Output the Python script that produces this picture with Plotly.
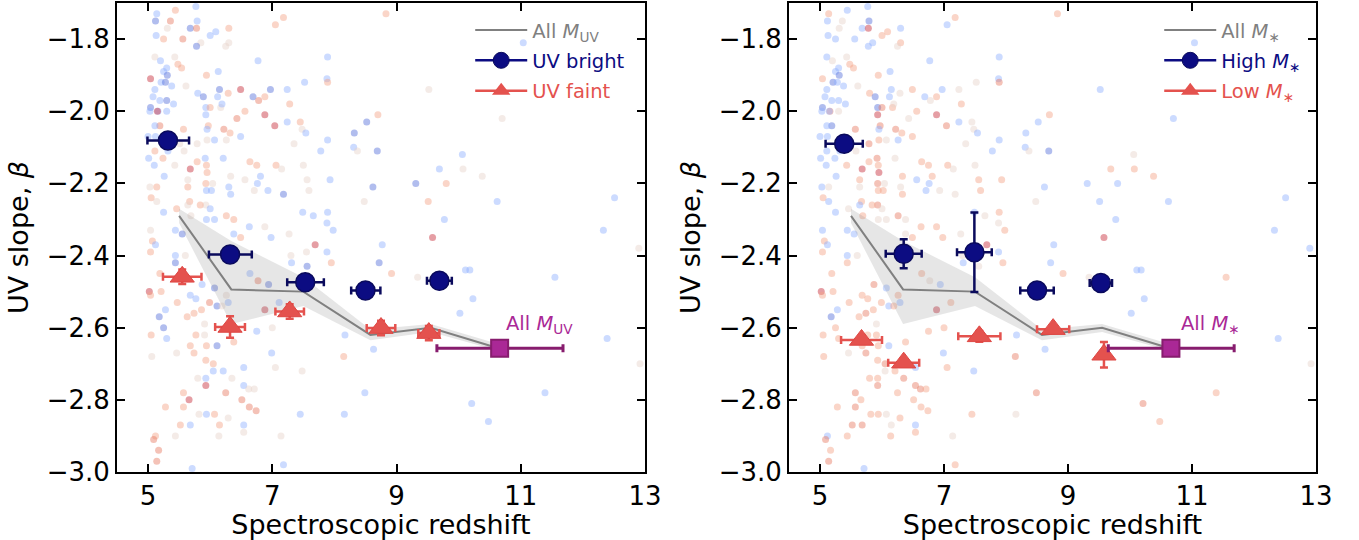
import plotly.graph_objects as go

# individual galaxies (shared positions in both panels)
z_gal = [5.77, 5.14, 5.44, 5.12, 5.36, 5.79, 5.68, 5.78, 5.31, 6.09, 6.30, 6.00, 5.13, 5.25, 5.56, 5.85, 5.78, 6.30, 6.25, 7.05,
         7.18, 8.83, 11.04, 5.11, 5.43, 5.20, 5.48, 5.54, 6.77, 7.89, 5.30, 5.25, 5.31, 6.13, 5.94, 5.04, 5.21, 5.28, 5.38, 5.61,
         5.11, 5.80, 6.15, 6.49, 6.97, 7.24, 7.52, 7.88, 7.89, 9.52, 6.29, 6.12, 5.89, 6.69, 6.88, 6.78, 5.08, 5.19, 5.30, 5.41,
         7.28, 5.04, 5.16, 5.03, 5.15, 5.30, 5.93, 6.00, 6.17, 6.19, 5.93, 6.56, 6.43, 6.88, 7.04, 7.24, 7.45, 8.52, 8.70, 10.70,
         5.19, 5.11, 5.57, 5.97, 5.95, 6.22, 7.48, 7.54, 8.32, 7.89, 8.31, 8.69, 8.37, 7.35, 7.78, 10.06, 5.00, 5.12, 5.51, 5.11,
         5.32, 5.58, 5.79, 5.95, 6.07, 6.26, 6.32, 6.49, 5.92, 6.21, 5.01, 5.10, 5.24, 5.43, 5.68, 5.79, 5.94, 5.95, 6.33, 6.64,
         6.75, 7.06, 7.15, 7.50, 9.69, 10.07, 10.38, 9.80, 9.31, 8.62, 7.93, 7.56, 7.59, 7.18, 6.93, 6.81, 6.76, 6.56, 6.71, 5.26,
         5.03, 5.14, 5.64, 5.64, 5.93, 6.04, 6.30, 6.33, 5.94, 6.02, 5.05, 5.14, 5.67, 5.93, 5.84, 6.00, 5.64, 5.46, 5.25, 5.69,
         6.26, 6.38, 5.94, 6.07, 6.63, 6.88, 7.49, 7.66, 7.89, 7.88, 7.98, 8.48, 9.51, 10.62, 9.77, 12.33, 12.51, 9.58, 8.77, 7.69,
         5.04, 5.44, 5.55, 5.07, 5.12, 6.49, 6.38, 6.98, 7.27, 12.90, 5.04, 5.44, 5.60, 5.44, 11.55, 10.11, 10.18, 9.34, 8.92, 8.72,
         7.56, 7.31, 7.95, 7.55, 7.30, 7.88, 5.19, 5.02, 5.04, 5.21, 5.68, 5.77, 5.87, 6.07, 6.26, 6.29, 5.99, 6.11, 6.19, 5.47,
         5.28, 5.18, 5.63, 5.74, 5.86, 6.64, 6.77, 6.94, 7.11, 6.88, 7.00, 6.75, 5.25, 5.05, 5.30, 5.77, 5.91, 5.91, 5.68, 5.74,
         5.94, 6.11, 6.38, 5.46, 5.06, 8.17, 8.63, 8.15, 6.99, 10.02, 10.23, 12.39, 12.92, 11.39, 10.21, 10.48, 8.49, 8.16, 7.45, 7.05,
         7.48, 7.14, 7.18, 5.93, 6.05, 5.93, 6.05, 6.21, 6.35, 5.80, 5.93, 6.25, 6.54, 6.62, 6.71, 6.54, 5.57, 5.66, 5.57, 6.51,
         6.63, 6.74, 5.28, 5.82, 5.94, 6.07, 6.29, 6.15, 5.68, 5.52, 6.54, 6.54, 6.14, 5.44, 5.12, 5.09, 5.17, 5.14, 5.71]
beta_gal = [-1.71, -1.73, -1.72, -1.75, -1.75, -1.75, -1.77, -1.77, -1.77, -1.78, -1.77, -1.79, -1.79, -1.80, -1.80, -1.81, -1.82, -1.81, -1.82, -1.76,
            -1.74, -1.73, -1.81, -1.85, -1.85, -1.86, -1.87, -1.88, -1.86, -1.85, -1.88, -1.89, -1.90, -1.89, -1.90, -1.91, -1.92, -1.92, -1.93, -1.93,
            -1.94, -1.95, -1.94, -1.94, -1.94, -1.94, -1.92, -1.91, -1.92, -1.94, -1.95, -1.96, -1.96, -1.96, -1.96, -1.97, -1.96, -1.97, -1.97, -1.98,
            -1.98, -1.99, -2.00, -2.00, -2.00, -2.00, -1.99, -1.99, -1.99, -1.98, -2.01, -2.00, -2.02, -2.01, -2.04, -2.03, -2.03, -2.03, -2.01, -2.02,
            -2.04, -2.04, -2.05, -2.04, -2.05, -2.05, -2.05, -2.06, -2.06, -2.08, -2.10, -2.11, -2.11, -2.09, -2.11, -2.12, -2.07, -2.07, -2.09, -2.11,
            -2.11, -2.11, -2.09, -2.08, -2.08, -2.08, -2.06, -2.07, -2.13, -2.13, -2.13, -2.15, -2.13, -2.15, -2.16, -2.14, -2.15, -2.17, -2.18, -2.14,
            -2.15, -2.15, -2.16, -2.15, -2.16, -2.16, -2.18, -2.20, -2.20, -2.21, -2.19, -2.19, -2.22, -2.23, -2.22, -2.18, -2.20, -2.19, -2.22, -2.18,
            -2.21, -2.21, -2.19, -2.21, -2.20, -2.20, -2.21, -2.23, -2.22, -2.22, -2.24, -2.25, -2.25, -2.26, -2.26, -2.27, -2.26, -2.27, -2.28, -2.29,
            -2.29, -2.30, -2.30, -2.30, -2.32, -2.32, -2.28, -2.29, -2.28, -2.31, -2.33, -2.25, -2.25, -2.25, -2.30, -2.33, -2.24, -2.35, -2.37, -2.37,
            -2.33, -2.33, -2.34, -2.36, -2.37, -2.35, -2.34, -2.35, -2.34, -2.38, -2.39, -2.40, -2.40, -2.42, -2.46, -2.44, -2.44, -2.46, -2.45, -2.42,
            -2.43, -2.42, -2.42, -2.39, -2.40, -2.39, -2.45, -2.50, -2.51, -2.50, -2.51, -2.52, -2.48, -2.49, -2.51, -2.53, -2.53, -2.54, -2.54, -2.53,
            -2.55, -2.57, -2.57, -2.56, -2.55, -2.45, -2.47, -2.48, -2.53, -2.55, -2.60, -2.61, -2.60, -2.62, -2.63, -2.62, -2.62, -2.59, -2.65, -2.67,
            -2.65, -2.65, -2.64, -2.67, -2.68, -2.62, -2.66, -2.68, -2.67, -2.56, -2.52, -2.63, -2.70, -2.78, -2.81, -2.86, -2.78, -2.84, -2.84, -2.71,
            -2.72, -2.90, -2.98, -2.69, -2.70, -2.74, -2.72, -2.72, -2.74, -2.74, -2.76, -2.78, -2.76, -2.77, -2.77, -2.71, -2.78, -2.80, -2.82, -2.80,
            -2.82, -2.83, -2.82, -2.84, -2.84, -2.84, -2.85, -2.87, -2.87, -2.87, -2.87, -2.89, -2.90, -2.90, -2.90, -2.91, -2.94, -2.97, -2.99]
# colour of each galaxy: relative M_UV (left) and relative stellar mass (right), -1 blue .. +1 red
c_muv = [-0.5, -0.5, 0.45, -0.85, 0.65, -0.5, -0.85, 0.65, 0.1, -0.5, 0.45, -0.5, -0.5, 0.45, 0.65, 0.1, -0.85, 0.1, 0.1, 0.45,
         0.45, 0.45, -0.5, 0.1, 0.1, -0.5, 0.45, 0.45, -0.5, -0.5, -0.5, -0.5, -0.85, -0.5, 0.45, 0.9, -0.5, -0.85, -0.5, 0.1,
         -0.5, -0.5, -0.85, 0.9, -0.85, -0.5, -0.5, -0.5, 0.45, 0.1, 0.45, -0.5, -0.85, -0.85, 0.45, 0.65, -0.5, -0.5, -0.85, -0.5,
         0.45, -0.85, -0.5, -0.5, 0.9, -0.5, -0.5, 0.45, 0.1, -0.5, -0.5, 0.45, 0.65, 0.9, 0.9, -0.5, 0.45, -0.85, 0.45, 0.1,
         0.65, -0.5, 0.45, 0.45, -0.5, 0.65, 0.1, -0.5, -0.85, -0.5, -0.5, -0.85, 0.1, 0.1, -0.5, -0.5, -0.5, -0.5, 0.1, 0.45,
         -0.5, 0.1, 0.1, 0.1, -0.5, 0.1, 0.45, -0.5, -0.5, -0.5, -0.5, -0.5, 0.45, 0.1, 0.9, 0.45, 0.45, 0.45, 0.1, 0.45,
         0.45, 0.45, 0.1, 0.1, -0.5, 0.1, 0.1, 0.45, -0.85, -0.85, -0.5, 0.1, 0.1, -0.85, -0.5, -0.5, -0.5, 0.1, 0.1, -0.5,
         0.1, 0.45, 0.1, 0.45, 0.45, 0.1, -0.5, -0.5, -0.5, -0.5, 0.45, 0.1, 0.45, 0.1, 0.45, -0.5, 0.1, 0.45, -0.5, 0.1,
         0.45, 0.45, -0.5, -0.5, -0.5, 0.1, -0.5, -0.5, -0.5, -0.5, -0.5, 0.1, 0.45, -0.5, -0.5, -0.5, -0.5, 0.9, -0.5, 0.9,
         0.1, -0.5, -0.85, 0.45, -0.5, 0.45, -0.5, -0.5, 0.1, 0.1, 0.45, -0.5, 0.1, -0.85, -0.5, -0.5, -0.5, 0.1, 0.45, -0.85,
         -0.85, -0.5, 0.45, 0.1, 0.1, -0.5, 0.45, 0.9, 0.45, 0.45, -0.5, -0.5, -0.5, -0.85, 0.1, -0.5, 0.65, -0.85, 0.1, 0.45,
         -0.5, -0.85, 0.45, 0.45, 0.45, -0.5, 0.65, -0.85, -0.5, 0.9, 0.1, -0.5, -0.85, 0.45, -0.5, 0.45, 0.1, 0.1, 0.45, 0.45,
         0.45, -0.85, 0.45, 0.1, 0.1, -0.5, -0.5, 0.45, -0.5, -0.5, -0.5, -0.5, 0.1, -0.5, -0.5, -0.5, -0.5, -0.5, -0.5, 0.1,
         0.1, 0.1, -0.5, 0.45, 0.45, -0.5, -0.5, -0.5, 0.1, 0.1, 0.9, 0.65, -0.5, 0.1, 0.1, -0.5, 0.45, 0.9, 0.45, 0.65,
         0.65, 0.65, 0.45, 0.1, -0.5, 0.45, 0.1, 0.45, -0.5, 0.45, -0.5, 0.1, 0.1, 0.1, 0.45, 0.65, 0.65, 0.65, -0.5]
c_mstar = [-0.5, 0.45, -0.5, -0.5, 0.1, -0.85, -0.5, 0.9, 0.1, 0.45, -0.5, 0.45, -0.5, -0.5, -0.5, -0.5, -0.5, 0.45, 0.1, -0.5,
           0.45, 0.45, -0.5, -0.5, 0.1, 0.1, 0.45, 0.45, -0.5, -0.5, -0.5, -0.5, -0.85, -0.5, 0.45, 0.45, -0.85, -0.5, -0.5, 0.1,
           -0.5, 0.45, -0.5, 0.45, -0.5, 0.1, 0.1, -0.5, 0.65, -0.5, 0.1, -0.5, -0.85, -0.5, 0.45, 0.1, -0.5, -0.5, -0.5, -0.5,
           0.45, -0.85, 0.65, -0.5, -0.5, 0.1, -0.85, 0.65, 0.45, 0.1, 0.9, 0.45, 0.1, 0.9, 0.65, -0.5, 0.1, -0.5, 0.45, -0.5,
           -0.85, -0.5, 0.65, 0.65, -0.5, 0.65, 0.1, -0.5, -0.5, -0.5, -0.5, -0.85, 0.1, 0.1, -0.5, 0.1, -0.5, -0.5, -0.5, -0.5,
           -0.5, 0.1, 0.65, 0.45, 0.1, -0.5, 0.45, 0.45, 0.65, 0.1, -0.5, -0.5, -0.5, 0.45, 0.9, 0.45, 0.45, 0.9, 0.45, 0.45,
           0.45, 0.45, 0.1, 0.1, 0.45, 0.45, 0.45, -0.5, -0.5, -0.5, 0.45, 0.45, 0.45, 0.1, 0.1, 0.45, -0.5, -0.5, -0.5, -0.5,
           -0.5, 0.1, 0.45, 0.1, 0.65, 0.1, 0.1, 0.45, 0.45, 0.45, 0.45, -0.5, 0.45, 0.65, 0.45, 0.1, -0.5, 0.1, -0.5, 0.45,
           0.65, 0.1, 0.1, 0.1, 0.45, 0.45, -0.5, 0.1, 0.45, 0.1, 0.45, 0.1, -0.5, -0.5, -0.5, -0.5, -0.5, 0.9, -0.5, 0.9,
           -0.5, -0.5, -0.5, 0.45, -0.5, 0.45, 0.1, 0.45, 0.1, -0.5, 0.45, -0.5, 0.1, 0.45, 0.45, -0.5, -0.5, 0.1, 0.45, -0.5,
           0.1, -0.5, 0.45, 0.1, 0.1, -0.5, 0.45, 0.9, 0.45, 0.45, 0.45, 0.45, 0.65, -0.5, 0.45, -0.5, 0.45, -0.5, 0.45, 0.45,
           -0.5, -0.85, 0.45, 0.65, 0.45, 0.45, 0.1, -0.5, 0.45, 0.9, 0.45, 0.45, 0.45, 0.45, 0.45, 0.45, 0.45, 0.1, 0.45, 0.65,
           0.45, -0.5, 0.45, 0.1, 0.45, -0.5, -0.5, 0.65, -0.5, -0.5, -0.5, -0.5, 0.1, 0.45, 0.65, 0.45, 0.65, 0.1, 0.45, 0.45,
           -0.5, 0.1, 0.45, 0.45, 0.65, 0.45, 0.1, 0.45, 0.65, 0.45, 0.65, 0.45, 0.65, 0.65, 0.45, -0.5, 0.65, 0.45, 0.65, 0.45,
           0.45, 0.45, 0.45, 0.45, 0.45, 0.1, 0.45, 0.1, 0.65, 0.65, -0.5, 0.45, 0.45, 0.45, -0.5, 0.65, 0.45, 0.65, -0.5]

# running median of the full sample with its uncertainty band
all_z = [5.5, 6.34, 7.5, 8.58, 9.55, 10.6]
all_beta = [-2.29, -2.494, -2.50, -2.62, -2.60, -2.655]
all_hi = [-2.27, -2.36, -2.46, -2.605, -2.59, -2.643]
all_lo = [-2.31, -2.59, -2.54, -2.635, -2.612, -2.662]

# left panel: split by M_UV
bright_z = [5.32, 6.32, 7.53, 8.50, 9.69]
bright_beta = [-2.081, -2.397, -2.474, -2.497, -2.470]
bright_zlo = [0.33, 0.34, 0.29, 0.23, 0.20]
bright_zhi = [0.34, 0.35, 0.30, 0.24, 0.20]
bright_berr = [0.02, 0.02, 0.02, 0.02, 0.02]
faint_z = [5.55, 6.32, 7.28, 8.75, 9.52]
faint_beta = [-2.459, -2.598, -2.555, -2.601, -2.615]
faint_zerr = [0.31, 0.24, 0.23, 0.23, 0.17]
faint_berr = [0.02, 0.03, 0.02, 0.02, 0.02]

# right panel: split by stellar mass
high_z = [5.39, 6.35, 7.49, 8.50, 9.53]
high_beta = [-2.090, -2.395, -2.391, -2.497, -2.476]
high_zerr = [0.30, 0.29, 0.28, 0.27, 0.18]
high_berr = [0.01, 0.04, 0.11, 0.01, 0.02]
low_z = [5.67, 6.35, 7.57, 8.76, 9.58]
low_beta = [-2.634, -2.697, -2.624, -2.604, -2.675]
low_zerr = [0.33, 0.25, 0.34, 0.26, 0.0]
low_berr = [0.01, 0.01, 0.015, 0.01, 0.035]

# highest-z bin, all galaxies
top_z = [10.66]
top_beta = [-2.657]
top_zlo = [1.01]
top_zhi = [1.02]

COOLWARM = [[0.0, "rgb(59,76,192)"], [0.125, "rgb(98,130,234)"], [0.25, "rgb(141,176,254)"],
            [0.375, "rgb(184,208,249)"], [0.5, "rgb(221,221,221)"], [0.625, "rgb(245,196,173)"],
            [0.75, "rgb(244,154,123)"], [0.875, "rgb(222,96,77)"], [1.0, "rgb(180,4,38)"]]
NAVY = "#0c0c82"
NAVY_DARK = "#0a0a5c"
RED = "rgb(228,82,78)"
MAG = "rgb(170,40,150)"
MAG_DARK = "rgb(135,28,110)"
GREY = "rgb(128,128,128)"
FONT = "DejaVu Sans"

fig = go.Figure()


def panel(xa, ya, colours, s1, s2, sub, leg):
    fig.add_trace(go.Scatter(x=z_gal, y=beta_gal, mode="markers", xaxis=xa, yaxis=ya, showlegend=False,
                             marker=dict(size=7, color=colours, colorscale=COOLWARM, cmin=-1, cmax=1,
                                         opacity=0.45, line_width=0)))
    fig.add_trace(go.Scatter(x=all_z, y=all_hi, mode="lines", line_width=0, xaxis=xa, yaxis=ya, showlegend=False))
    fig.add_trace(go.Scatter(x=all_z, y=all_lo, mode="lines", line_width=0, fill="tonexty",
                             fillcolor="rgba(140,140,140,0.22)", xaxis=xa, yaxis=ya, showlegend=False))
    fig.add_trace(go.Scatter(x=all_z, y=all_beta, mode="lines", line=dict(color=GREY, width=2),
                             xaxis=xa, yaxis=ya, showlegend=False))
    # blue circles
    fig.add_trace(go.Scatter(x=s1[0], y=s1[1], mode="markers", xaxis=xa, yaxis=ya, showlegend=False,
                             error_x=dict(type="data", symmetric=False, array=s1[3], arrayminus=s1[2],
                                          color=NAVY_DARK, thickness=2.5, width=4),
                             error_y=dict(type="data", array=s1[4], color=NAVY_DARK, thickness=2.5, width=4),
                             marker=dict(symbol="circle", size=19, color=NAVY, line=dict(color=NAVY_DARK, width=1.5))))
    # red triangles
    fig.add_trace(go.Scatter(x=s2[0], y=s2[1], mode="markers", xaxis=xa, yaxis=ya, showlegend=False,
                             error_x=dict(type="data", array=s2[2], color=RED, thickness=2.5, width=4),
                             error_y=dict(type="data", array=s2[3], color=RED, thickness=2.5, width=4),
                             marker=dict(symbol="triangle-up", size=21, color=RED,
                                         line=dict(color="rgb(222,70,66)", width=1))))
    # magenta square
    fig.add_trace(go.Scatter(x=top_z, y=top_beta, mode="markers", xaxis=xa, yaxis=ya, showlegend=False,
                             error_x=dict(type="data", symmetric=False, array=top_zhi, arrayminus=top_zlo,
                                          color=MAG_DARK, thickness=3, width=4),
                             marker=dict(symbol="square", size=17, color=MAG, line=dict(color=MAG_DARK, width=2))))
    fig.add_annotation(x=11.3, y=-2.592, xref=xa, yref=ya, showarrow=False,
                       text="All <i>M</i><sub>%s</sub>" % sub[0], font=dict(size=19.5, color=MAG, family=FONT))
    # legend entries
    names = ["<span style='color:%s'>All <i>M</i><sub>%s</sub></span>" % (GREY, sub[0]),
             "<span style='color:%s'>%s</span>" % (NAVY, sub[1]),
             "<span style='color:%s'>%s</span>" % (RED, sub[2])]
    fig.add_trace(go.Scatter(x=[None], y=[None], mode="lines", line=dict(color=GREY, width=2), name=names[0],
                             legend=leg, legendgroup=leg + "a", xaxis=xa, yaxis=ya))
    fig.add_trace(go.Scatter(x=[None], y=[None], mode="lines+markers", line=dict(color=NAVY, width=2.5),
                             marker=dict(symbol="circle", size=16, color=NAVY, line=dict(color=NAVY_DARK, width=1)),
                             name=names[1], legend=leg, legendgroup=leg + "b", xaxis=xa, yaxis=ya))
    fig.add_trace(go.Scatter(x=[None], y=[None], mode="lines+markers", line=dict(color=RED, width=2.5),
                             marker=dict(symbol="triangle-up", size=16, color=RED),
                             name=names[2], legend=leg, legendgroup=leg + "c", xaxis=xa, yaxis=ya))


panel("x", "y", c_muv, [bright_z, bright_beta, bright_zlo, bright_zhi, bright_berr],
      [faint_z, faint_beta, faint_zerr, faint_berr], ["UV", "UV bright", "UV faint"], "legend")
panel("x2", "y2", c_mstar, [high_z, high_beta, high_zerr, high_zerr, high_berr],
      [low_z, low_beta, low_zerr, low_berr], ["∗", "High <i>M</i><sub>∗</sub>", "Low <i>M</i><sub>∗</sub>"], "legend2")

ax_common = dict(showline=True, linecolor="black", linewidth=2, mirror="ticks", ticks="inside",
                 ticklen=8, tickwidth=2, tickcolor="black", showgrid=False, zeroline=False,
                 tickfont=dict(size=26, color="black", family=FONT), automargin=False)
xa = dict(ax_common, range=[4.5, 13], tickvals=[5, 7, 9, 11, 13],
          title=dict(text="Spectroscopic redshift", font=dict(size=27, family=FONT, color="black"), standoff=6))
ya = dict(ax_common, range=[-3.0, -1.7], tickvals=[-3.0, -2.8, -2.6, -2.4, -2.2, -2.0, -1.8], tickformat=".1f",
          title=dict(text="UV slope, <i>β</i>", font=dict(size=27, family=FONT, color="black"), standoff=10))

leg_common = dict(yanchor="top", xanchor="left", y=0.98, bgcolor="rgba(0,0,0,0)",
                  font=dict(size=19.5, family=FONT), tracegroupgap=2, itemwidth=52)

fig.update_layout(
    width=1359, height=540, plot_bgcolor="white", paper_bgcolor="white",
    margin=dict(l=0, r=0, t=0, b=0),
    font=dict(family=FONT),
    xaxis=dict(xa, domain=[117 / 1359, 645 / 1359], anchor="y"),
    yaxis=dict(ya, domain=[1 - 472 / 540, 1 - 3 / 540], anchor="x"),
    xaxis2=dict(xa, domain=[789 / 1359, 1316 / 1359], anchor="y2"),
    yaxis2=dict(ya, domain=[1 - 472 / 540, 1 - 3 / 540], anchor="x2"),
    legend=dict(leg_common, x=0.346),
    legend2=dict(leg_common, x=0.853),
)

fig.write_html("out.html", config={"displayModeBar": False},
               post_script="document.body.style.margin='0px';")
